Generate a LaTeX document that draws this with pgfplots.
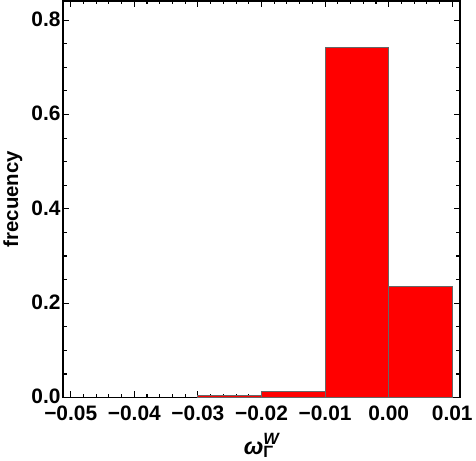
\documentclass[border=0pt]{standalone}
\usepackage{fontspec}
\setmainfont{Liberation Sans}
\usepackage{pgfplots}
\pgfplotsset{compat=1.18}

\begin{document}
\begin{tikzpicture}
\begin{axis}[
  scale only axis,
  width=389pt, height=389pt,
  xmin=-0.0512, xmax=0.0112,
  ymin=0, ymax=0.841,
  scaled x ticks=false,
  scaled y ticks=false,
  axis line style={line width=1.6pt},
  xtick={-0.05,-0.04,-0.03,-0.02,-0.01,0,0.01},
  xticklabels={−0.05,−0.04,−0.03,−0.02,−0.01,0.00,0.01},
  ytick={0,0.2,0.4,0.6,0.8},
  yticklabels={0.0,0.2,0.4,0.6,0.8},
  minor x tick num=4,
  minor y tick num=3,
  tick align=inside,
  tick pos=both,
  major tick length=6pt,
  minor tick length=3.5pt,
  tick style={black, line width=1.1pt},
  every tick label/.append style={font=\fontsize{20.5}{20.5}\selectfont\bfseries},
  xticklabel style={yshift=-5pt},
  yticklabel style={xshift=1pt, yshift=1pt},
  ylabel={\fontsize{20}{20}\selectfont\bfseries frecuency},
  xlabel={$\mbox{\fontsize{23}{23}\selectfont\bfseries\itshape ω}_{\mbox{\fontsize{16}{16}\selectfont\bfseries Γ}}^{\mbox{\fontsize{16}{16}\selectfont\bfseries\itshape W}}$},
  xlabel style={yshift=-5pt},
  ylabel style={yshift=2pt},
]
\addplot[ybar interval, fill=red, draw=black!60, line width=1pt]
  coordinates {(-0.03,0.004) (-0.02,0.0123) (-0.01,0.742) (0,0.2353) (0.01,0)};
\end{axis}
\end{tikzpicture}
\end{document}
